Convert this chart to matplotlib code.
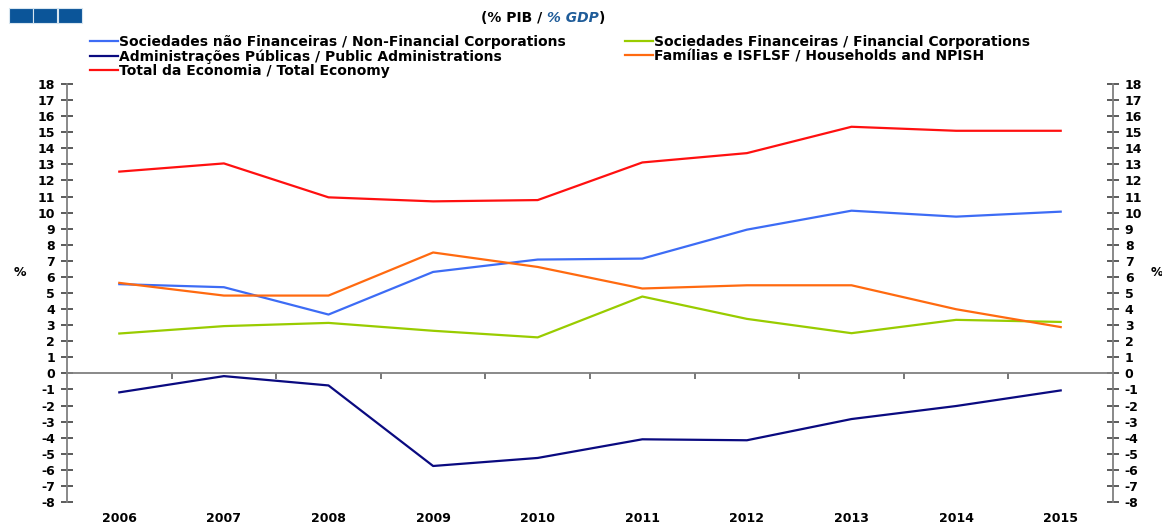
import matplotlib
matplotlib.use("Agg")
import matplotlib.pyplot as plt
from matplotlib.patches import Rectangle
from matplotlib.ticker import FixedLocator, NullFormatter

plt.rcParams['font.family'] = ['DejaVu Sans']

years = ["2006", "2007", "2008", "2009", "2010", "2011", "2012", "2013", "2014", "2015"]
nfc = [5.55, 5.36, 3.66, 6.31, 7.08, 7.14, 8.94, 10.12, 9.75, 10.06]
fc = [2.48, 2.94, 3.14, 2.65, 2.24, 4.78, 3.39, 2.50, 3.33, 3.20]
gov = [-1.18, -0.17, -0.75, -5.76, -5.26, -4.10, -4.16, -2.84, -2.03, -1.06]
hh = [5.63, 4.84, 4.84, 7.52, 6.62, 5.28, 5.48, 5.48, 3.99, 2.88]
total = [12.55, 13.06, 10.95, 10.70, 10.78, 13.12, 13.70, 15.34, 15.09, 15.09]

labels = {
    "nfc": "Sociedades não Financeiras / Non-Financial Corporations",
    "fc": "Sociedades Financeiras / Financial Corporations",
    "gov": "Administrações Públicas / Public Administrations",
    "hh": "Famílias e ISFLSF / Households and NPISH",
    "total": "Total da Economia / Total Economy",
}
colors = {"nfc": "#3d6cf5", "fc": "#99cc00", "gov": "#0a0a80", "hh": "#ff6a10", "total": "#ff1010"}

W, H = 1162, 524
fig = plt.figure(figsize=(W / 100, H / 100), dpi=100)
ax = fig.add_axes([67 / W, 1 - 502 / H, (1113 - 67) / W, (502 - 84) / H])

x = list(range(len(years)))
lines = {}
for key, data in [("nfc", nfc), ("fc", fc), ("gov", gov), ("hh", hh), ("total", total)]:
    lines[key], = ax.plot(x, data, color=colors[key], lw=1.6, label=labels[key], zorder=3)

ax.set_xlim(-0.5, len(years) - 0.5)
ax.set_ylim(-8, 18)

axis_col = "#808080"
ax.spines["top"].set_visible(False)
ax.spines["bottom"].set_position(("data", 0))
for s in ["left", "right", "bottom"]:
    ax.spines[s].set_color(axis_col)
    ax.spines[s].set_linewidth(1.3)

# x axis at zero: boundary ticks only
ax.xaxis.set_major_locator(FixedLocator([]))
ax.xaxis.set_minor_locator(FixedLocator([i + 0.5 for i in range(len(years) - 1)]))
ax.xaxis.set_minor_formatter(NullFormatter())
ax.tick_params(axis="x", which="minor", direction="out", length=4, width=1.2, color="#606060")

# category labels at bottom
sec = ax.secondary_xaxis(0)
sec.set_xticks(x)
sec.set_xticklabels(years, fontsize=9, fontweight="bold")
sec.tick_params(length=0, pad=7)
sec.spines["bottom"].set_visible(False)

yt = list(range(-8, 19))
ax.set_yticks(yt)
ax.set_yticklabels([str(v) for v in yt], fontsize=9, fontweight="bold")
ax.tick_params(axis="y", which="major", direction="inout", length=9, width=1.2, color="#404040",
               left=True, right=True, labelleft=True, labelright=True, pad=4)

fig.text(20 / W, 1 - 272 / H, "%", fontsize=9, fontweight="bold", ha="center", va="center")
fig.text(1157 / W, 1 - 272 / H, "%", fontsize=9, fontweight="bold", ha="center", va="center")

# legends
leg_kw = dict(frameon=False, prop=dict(size=10, weight="bold"), handlelength=2.0,
              handletextpad=0.1, labelspacing=0.0, borderpad=0, borderaxespad=0)
leg1 = fig.legend([lines["nfc"], lines["gov"], lines["total"]],
                  [labels["nfc"], labels["gov"], labels["total"]],
                  loc="upper left", bbox_to_anchor=(90 / W, 1 - 35 / H), **leg_kw)
leg2 = fig.legend([lines["fc"], lines["hh"]], [labels["fc"], labels["hh"]],
                  loc="upper left", bbox_to_anchor=(625 / W, 1 - 35 / H), **leg_kw)

# header decoration squares
for x0 in [9, 33, 58]:
    fig.patches.append(Rectangle((x0 / W, 1 - 23 / H), 24 / W, 15 / H,
                                 transform=fig.transFigure, facecolor="#0b5599",
                                 edgecolor="#d8e6f0", lw=0.8, zorder=5))

# subtitle "(% PIB / % GDP)"
fig.canvas.draw()
r = fig.canvas.get_renderer()
parts = [("(% PIB / ", "black", "normal"), ("% GDP", "#1f5c99", "italic"), (")", "black", "normal")]
tmp = [fig.text(0, 0, p[0], fontsize=10, fontweight="bold", style=p[2]) for p in parts]
widths = [t.get_window_extent(renderer=r).width for t in tmp]
for t in tmp:
    t.remove()
xpos = 543 - sum(widths) / 2
for (txt, col, sty), w in zip(parts, widths):
    fig.text(xpos / W, 1 - 18 / H, txt, fontsize=10, fontweight="bold", color=col,
             style=sty, ha="left", va="center")
    xpos += w

fig.savefig("out.png", dpi=100)
